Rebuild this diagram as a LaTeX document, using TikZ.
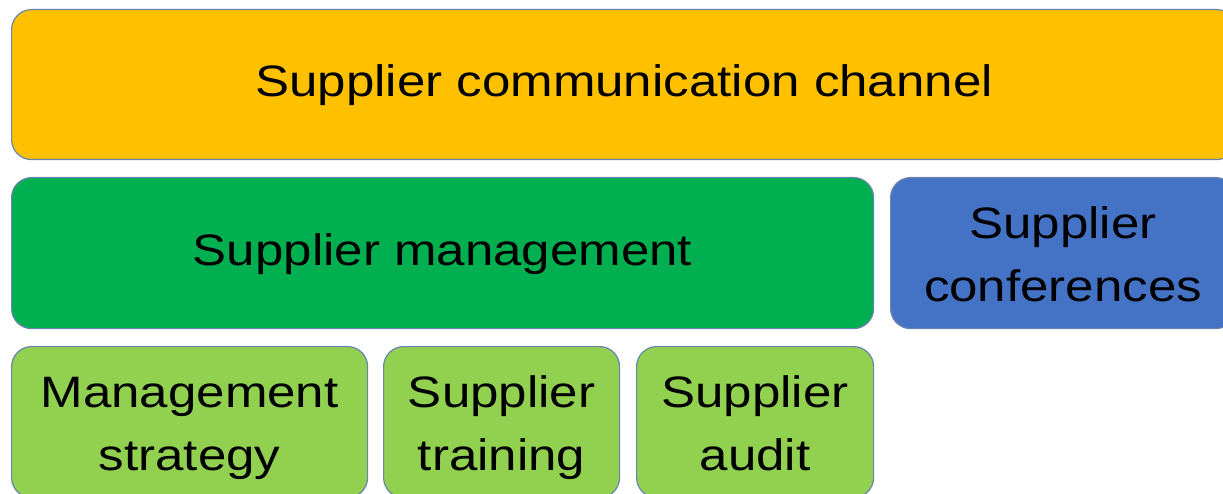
\documentclass[tikz,border=0pt]{standalone}
\usepackage{fontspec}
\setmainfont{Liberation Sans}[FakeStretch=1.16]
\definecolor{amber}{HTML}{FFC000}
\definecolor{deepgreen}{HTML}{00B050}
\definecolor{royal}{HTML}{4472C4}
\definecolor{lightgreen}{HTML}{92D050}
\definecolor{edge}{HTML}{6A84B0}
% two centred lines with fixed top and bottom struts, so every box sets them alike
\newcommand\tilepair[2]{\rule{0pt}{45pt}#1\\#2\rule[-11.5pt]{0pt}{11.5pt}}
\begin{document}
\begin{tikzpicture}[x=1pt,y=-1pt,
  tile/.style={draw=edge, line width=1.2pt, rounded corners=20pt,
    anchor=north west, inner sep=0pt, align=center,
    font=\fontsize{44}{62.5}\selectfont, text=black},
  oneline/.style={text height=31pt, text depth=7pt}]
  \useasboundingbox (0,0) rectangle (1223,494);
  \clip (0,0) rectangle (1223,494);
  \node[tile, oneline, fill=amber, minimum width=1225pt, minimum height=150pt]
    (channel) at (11,9) {Supplier communication channel};
  \node[tile, oneline, fill=deepgreen, minimum width=862pt, minimum height=151pt]
    (mgmt) at (11,177) {Supplier management};
  \node[tile, fill=royal, minimum width=345pt, minimum height=151pt]
    (conf) at (890,177) {\tilepair{Supplier}{conferences}};
  \node[tile, fill=lightgreen, minimum width=356pt, minimum height=151pt]
    (strategy) at (11,346) {\tilepair{Management}{strategy}};
  \node[tile, fill=lightgreen, minimum width=236pt, minimum height=151pt]
    (training) at (383,346) {\tilepair{Supplier}{training}};
  \node[tile, fill=lightgreen, minimum width=237pt, minimum height=151pt]
    (audit) at (636,346) {\tilepair{Supplier}{audit}};
\end{tikzpicture}
\end{document}
